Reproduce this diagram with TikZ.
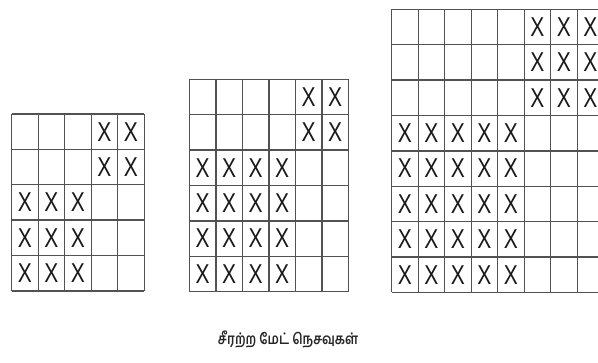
\documentclass[tikz,border=0pt]{standalone}
\usepackage{fontspec}
\setmainfont{Liberation Sans}
\newfontfamily\tamilfont[Script=Tamil]{Hind Madurai}
\newcommand\cw{26.5}
\newcommand\rh{35.4}
\newcommand\weavegrid[4]{%
  \foreach \i in {0,...,#3}
    \draw[gridline] ({#1+\i*\cw},#2) -- ({#1+\i*\cw},{#2+#4*\rh});
  \foreach \j in {0,...,#4}
    \draw[gridline] (#1,{#2+\j*\rh}) -- ({#1+#3*\cw},{#2+\j*\rh});
}
% #1 x0, #2 y0, #3 name prefix, #4 list of row/col
\newcommand\xmarks[4]{%
  \foreach \r/\c in {#4}
    \node[xmark] (#3-\r-\c) at ({#1+(\c-0.5)*\cw},{#2+(\r-0.5)*\rh}) {\scalebox{1}[1.3]{X}};
}
\begin{document}
\begin{tikzpicture}[x=1pt,y=-1pt,
  gridline/.style={draw=black!68, line width=1.4pt},
  xmark/.style={font=\fontsize{21}{21}\selectfont, text=black!90, inner sep=0pt}]
\useasboundingbox (0,0) rectangle (598,363);
\clip (0,0) rectangle (598,363);
% grid 1: 5 x 5
\weavegrid{11.7}{114}{5}{5}
\xmarks{11.7}{114}{ga}{1/4,1/5,2/4,2/5,3/1,3/2,3/3,4/1,4/2,4/3,5/1,5/2,5/3}
% grid 2: 6 x 6
\weavegrid{189.3}{79.3}{6}{6}
\xmarks{189.3}{79.3}{gb}{1/5,1/6,2/5,2/6,3/1,3/2,3/3,3/4,4/1,4/2,4/3,4/4,5/1,5/2,5/3,5/4,6/1,6/2,6/3,6/4}
% grid 3: 8 x 8
\weavegrid{391.7}{9.3}{8}{8}
\xmarks{391.7}{9.3}{gc}{1/6,1/7,1/8,2/6,2/7,2/8,3/6,3/7,3/8,4/1,4/2,4/3,4/4,4/5,5/1,5/2,5/3,5/4,5/5,6/1,6/2,6/3,6/4,6/5,7/1,7/2,7/3,7/4,7/5,8/1,8/2,8/3,8/4,8/5}
% caption
\node[font=\tamilfont\bfseries\fontsize{12.5}{14}\selectfont, text=black!85] (cap) at (288,340) {\scalebox{1}[1.2]{சீரற்ற மேட் நெசவுகள்}};
\end{tikzpicture}
\end{document}
